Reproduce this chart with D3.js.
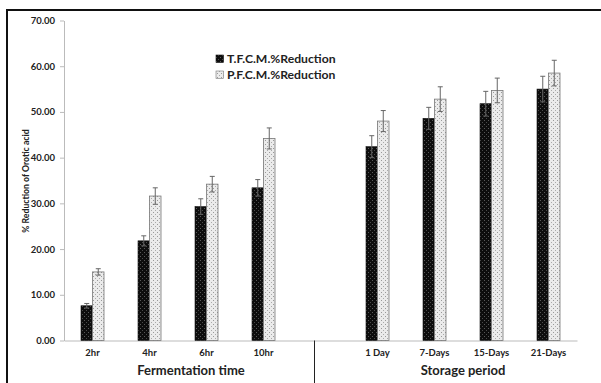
<!DOCTYPE html>
<html>
<head>
<meta charset="utf-8">
<script src="https://cdn.jsdelivr.net/npm/d3@7"></script>
<style>
body { margin: 0; background: #fff; }
svg text { font-family: Lato, "Open Sans", sans-serif; font-weight: bold; fill: #222; }
</style>
</head>
<body>
<svg id="chart" width="601" height="383"></svg>
<script>
// categories ("" is the empty slot between the two groups)
var categories = ["2hr", "4hr", "6hr", "10hr", "", "1 Day", "7-Days", "15-Days", "21-Days"];
var tfcm = [7.6, 21.8, 29.3, 33.4, null, 42.4, 48.6, 51.8, 55.0];
var pfcm = [15.0, 31.6, 34.2, 44.2, null, 48.0, 52.8, 54.7, 58.5];
var tfcmErr = [0.5, 1.1, 1.7, 1.8, null, 2.4, 2.4, 2.7, 2.8];
var pfcmErr = [0.7, 1.8, 1.7, 2.3, null, 2.3, 2.7, 2.7, 2.8];
var yTicks = [0, 10, 20, 30, 40, 50, 60, 70];
var seriesNames = ["T.F.C.M.%Reduction", "P.F.C.M.%Reduction"];
var groupTitles = ["Fermentation time", "Storage period"];

var svg = d3.select("#chart");

// bar textures
var defs = svg.append("defs");
var pd = defs.append("pattern").attr("id", "darkPat")
    .attr("patternUnits", "userSpaceOnUse").attr("width", 4).attr("height", 4);
pd.append("rect").attr("width", 4).attr("height", 4).attr("fill", "#0d0d0d");
pd.append("rect").attr("x", 0).attr("y", 0).attr("width", 1).attr("height", 1).attr("fill", "#5a5a5a");
pd.append("rect").attr("x", 2).attr("y", 2).attr("width", 1).attr("height", 1).attr("fill", "#4a4a4a");

var pl = defs.append("pattern").attr("id", "lightPat")
    .attr("patternUnits", "userSpaceOnUse").attr("width", 4).attr("height", 4);
pl.append("rect").attr("width", 4).attr("height", 4).attr("fill", "#ebebeb");
pl.append("rect").attr("x", 1).attr("y", 0).attr("width", 1).attr("height", 1).attr("fill", "#999");
pl.append("rect").attr("x", 3).attr("y", 2).attr("width", 1).attr("height", 1).attr("fill", "#aaa");

// frame
svg.append("path").attr("d", "M7,383V10H601")
    .attr("fill", "none").attr("stroke", "#111").attr("stroke-width", 2);

var x = d3.scaleBand().domain(d3.range(categories.length)).range([64, 577]).paddingInner(0).paddingOuter(0);
var y = d3.scaleLinear().domain([0, 70]).range([340.5, 20.5]);
var barW = 11.5;

// y axis
var yAxis = svg.append("g").attr("transform", "translate(64,0)")
    .call(d3.axisLeft(y).tickValues(yTicks).tickFormat(d3.format(".2f")).tickSize(4).tickSizeOuter(0));
yAxis.select(".domain").attr("stroke", "#bbb");
yAxis.selectAll(".tick line").attr("stroke", "#bbb");
yAxis.selectAll("text").attr("font-size", 9.5).attr("x", -9).style("fill", "#222");

// x axis
var xAxis = svg.append("g").attr("transform", "translate(0," + y(0) + ")")
    .call(d3.axisBottom(x).tickFormat(function (i) { return categories[i]; }).tickSize(0).tickSizeOuter(0));
xAxis.select(".domain").attr("stroke", "#bbb");
xAxis.selectAll("text").attr("font-size", 9.5).attr("dy", "1.3em").style("fill", "#222");

// separator between groups
svg.append("line")
    .attr("x1", x(4) + x.bandwidth() / 2 - 6).attr("x2", x(4) + x.bandwidth() / 2 - 6)
    .attr("y1", y(0)).attr("y2", 383)
    .attr("stroke", "#222").attr("stroke-width", 1);

var idx = d3.range(categories.length).filter(function (i) { return tfcm[i] !== null; });

function center(i) { return x(i) + x.bandwidth() / 2; }

// T.F.C.M bars
svg.append("g").selectAll("rect").data(idx).enter().append("rect")
    .attr("x", function (i) { return center(i) - barW; })
    .attr("y", function (i) { return y(tfcm[i]); })
    .attr("width", barW)
    .attr("height", function (i) { return y(0) - y(tfcm[i]); })
    .attr("fill", "url(#darkPat)")
    .attr("stroke", "#111").attr("stroke-width", 0.6);

// P.F.C.M bars
svg.append("g").selectAll("rect").data(idx).enter().append("rect")
    .attr("x", function (i) { return center(i); })
    .attr("y", function (i) { return y(pfcm[i]); })
    .attr("width", barW)
    .attr("height", function (i) { return y(0) - y(pfcm[i]); })
    .attr("fill", "url(#lightPat)")
    .attr("stroke", "#777").attr("stroke-width", 0.8);

// error bars
function errorBars(vals, errs, offset) {
    var g = svg.append("g").attr("stroke", "#666").attr("stroke-width", 1);
    idx.forEach(function (i) {
        var cx = center(i) + offset;
        g.append("line").attr("x1", cx).attr("x2", cx)
            .attr("y1", y(vals[i] - errs[i])).attr("y2", y(vals[i] + errs[i]));
        g.append("line").attr("x1", cx - 2.5).attr("x2", cx + 2.5)
            .attr("y1", y(vals[i] + errs[i])).attr("y2", y(vals[i] + errs[i]));
        g.append("line").attr("x1", cx - 2.5).attr("x2", cx + 2.5)
            .attr("y1", y(vals[i] - errs[i])).attr("y2", y(vals[i] - errs[i]));
    });
}
errorBars(tfcm, tfcmErr, -barW / 2);
errorBars(pfcm, pfcmErr, barW / 2);

// y title
svg.append("text")
    .attr("transform", "translate(29,181) rotate(-90)")
    .attr("text-anchor", "middle").attr("font-size", 8.7)
    .text("% Reduction of Orotic acid");

// group titles
svg.append("text").attr("x", (center(0) + center(3)) / 2 + 13).attr("y", 375)
    .attr("text-anchor", "middle").attr("font-size", 13).text(groupTitles[0]);
svg.append("text").attr("x", (center(5) + center(8)) / 2).attr("y", 375)
    .attr("text-anchor", "middle").attr("font-size", 13).text(groupTitles[1]);

// legend
var legend = svg.append("g").attr("transform", "translate(216,53)");
var fills = ["url(#darkPat)", "url(#lightPat)"];
var strokes = ["#111", "#777"];
seriesNames.forEach(function (name, k) {
    var row = legend.append("g").attr("transform", "translate(0," + k * 16 + ")");
    row.append("rect").attr("width", 7.5).attr("height", 7.5).attr("y", 2)
        .attr("fill", fills[k]).attr("stroke", strokes[k]).attr("stroke-width", 0.6);
    row.append("text").attr("x", 11).attr("y", 10).attr("font-size", 12.2).text(name);
});
</script>
</body>
</html>
